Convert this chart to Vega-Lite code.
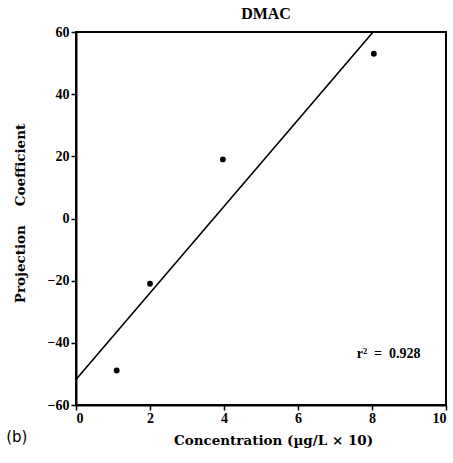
{
  "$schema": "https://vega.github.io/schema/vega-lite/v6.json",
  "width": 370,
  "height": 373,
  "autosize": {"type": "none"},
  "padding": {"left": 76, "top": 32, "right": 7, "bottom": 58},
  "background": "white",
  "title": {"text": "DMAC", "font": "Liberation Serif", "fontSize": 16, "fontWeight": "bold", "color": "black", "offset": 3, "dx": 5},
  "config": {
    "view": {"stroke": "black", "strokeWidth": 2},
    "axis": {"grid": false, "domainColor": "black", "domainWidth": 2, "tickColor": "black", "tickWidth": 1.5, "labelFont": "Liberation Serif", "labelFontWeight": "bold", "labelFontSize": 14, "labelColor": "black", "titleFont": "DejaVu Serif", "titleFontWeight": "bold", "titleFontSize": 13.5, "titleColor": "black"}
  },
  "datasets": {
    "pts": [
      {"conc": 1.1, "coef": -48.9},
      {"conc": 2.0, "coef": -21},
      {"conc": 3.97, "coef": 19},
      {"conc": 8.05, "coef": 53}
    ],
    "fit": [
      {"conc": 0, "coef": -51.8},
      {"conc": 8.03, "coef": 60}
    ],
    "notes": [
      {"conc": 8.45, "coef": -43.5, "label": "r²\u00a0\u00a0=\u00a0\u00a00.928", "kind": "r"},
      {"conc": -1.6, "coef": -70.3, "label": "(b)", "kind": "b"}
    ]
  },
  "layer": [
    {
      "data": {"name": "fit"},
      "mark": {"type": "line", "color": "black", "strokeWidth": 1.6},
      "encoding": {
        "x": {"field": "conc", "type": "quantitative", "scale": {"domain": [0, 10], "nice": false, "zero": false},
          "axis": {"title": "Concentration (µg/L × 10)", "values": [0,1,2,3,4,5,6,7,8,9,10], "labelExpr": "datum.value % 2 === 0 ? datum.label : ''", "tickSize": {"condition": {"test": "datum.value % 2 === 0", "value": 5}, "value": 3}, "labelPadding": 1, "titlePadding": 8, "titleX": 197}},
        "y": {"field": "coef", "type": "quantitative", "scale": {"domain": [-60, 60], "nice": false, "zero": false},
          "axis": {"title": "Projection\u00a0\u00a0\u00a0\u00a0Coefficient", "values": [-60,-50,-40,-30,-20,-10,0,10,20,30,40,50,60], "labelExpr": "datum.value % 20 === 0 ? datum.label : ''", "tickSize": {"condition": {"test": "datum.value % 20 === 0", "value": 5}, "value": 3}, "labelPadding": 2, "titlePadding": 20, "titleY": 181}}
      }
    },
    {
      "data": {"name": "pts"},
      "mark": {"type": "point", "filled": true, "color": "black", "size": 34, "opacity": 1},
      "encoding": {
        "x": {"field": "conc", "type": "quantitative"},
        "y": {"field": "coef", "type": "quantitative"}
      }
    },
    {
      "data": {"name": "notes"},
      "transform": [{"filter": "datum.kind === 'r'"}],
      "mark": {"type": "text", "font": "Liberation Serif", "fontWeight": "bold", "fontSize": 14, "color": "black", "clip": false},
      "encoding": {
        "x": {"field": "conc", "type": "quantitative"},
        "y": {"field": "coef", "type": "quantitative"},
        "text": {"field": "label"}
      }
    },
    {
      "data": {"name": "notes"},
      "transform": [{"filter": "datum.kind === 'b'"}],
      "mark": {"type": "text", "font": "DejaVu Sans", "fontSize": 15, "color": "black", "clip": false},
      "encoding": {
        "x": {"field": "conc", "type": "quantitative"},
        "y": {"field": "coef", "type": "quantitative"},
        "text": {"field": "label"}
      }
    }
  ]
}
